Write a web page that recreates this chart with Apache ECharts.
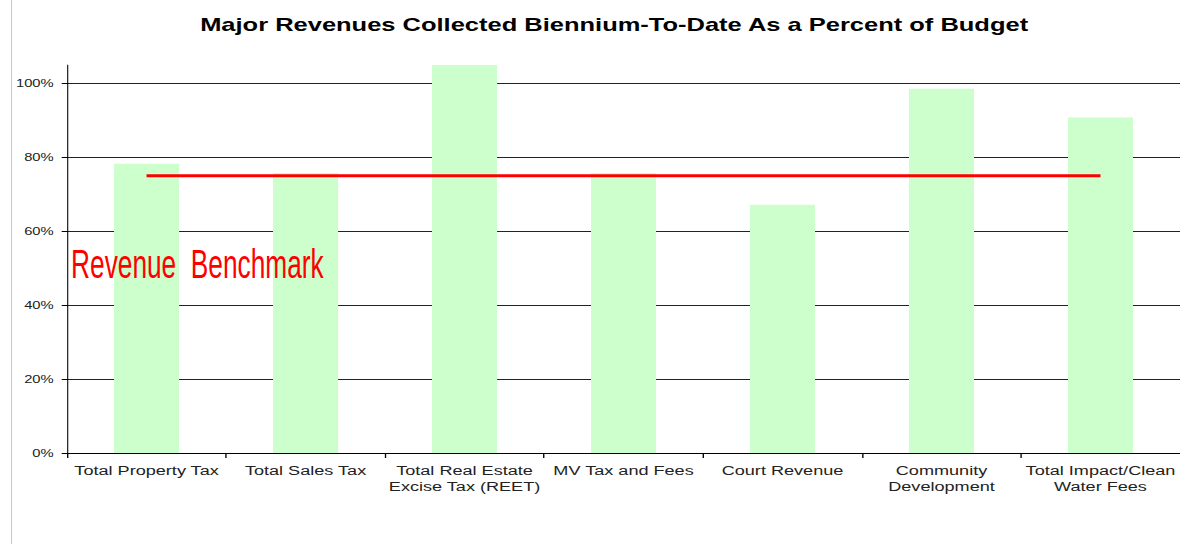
<!DOCTYPE html>
<html><head><meta charset="utf-8">
<script src="https://cdn.jsdelivr.net/npm/echarts@6/dist/echarts.min.js"></script>
<style>html,body{margin:0;padding:0;background:#fff;overflow:hidden}
#c{width:880px;height:544px;transform:scaleX(1.340909);transform-origin:0 0}
#edge{position:absolute;left:11px;top:0;width:1px;height:544px;background:#c8c8c8}</style>
</head><body><div id="c"></div><div id="edge"></div>
<script>
const categories = ['Total Property Tax','Total Sales Tax','Total Real Estate\nExcise Tax (REET)','MV Tax and Fees','Court Revenue','Community\nDevelopment','Total Impact/Clean\nWater Fees'];
const percentCollected = [78.3, 75.8, 105, 75.8, 67.2, 98.6, 90.8];
const benchmark = [75, 75, 75, 75, 75, 75, 75];
const yTicks = [0, 20, 40, 60, 80, 100];

const chart = echarts.init(document.getElementById('c'), null, {renderer: 'svg'});
chart.setOption({
  animation: false,
  title: {
    text: 'Major Revenues Collected Biennium-To-Date As a Percent of Budget',
    left: 453, top: 10, textAlign: 'center',
    textStyle: {fontFamily: 'Liberation Sans, Arial, sans-serif', fontWeight: 'bold', fontSize: 19, color: '#000'}
  },
  grid: {left: 50, right: -1, top: 65, bottom: 91},
  xAxis: {
    type: 'category', data: categories,
    axisLine: {lineStyle: {color: '#000', width: 1}},
    axisTick: {show: true, length: 5, lineStyle: {color: '#000'}},
    axisLabel: {interval: 0, color: '#222', fontSize: 13.5, fontFamily: 'Liberation Sans, Arial, sans-serif', lineHeight: 16, margin: 9}
  },
  yAxis: {
    type: 'value', min: 0, max: 105, interval: 20,
    axisLine: {show: true, lineStyle: {color: '#000', width: 0.8}},
    axisTick: {show: true, length: 4, lineStyle: {color: '#000'}, customValues: yTicks},
    axisLabel: {color: '#222', fontSize: 11, fontFamily: 'Liberation Sans, Arial, sans-serif', margin: 10, customValues: yTicks, formatter: v => v + '%'},
    splitLine: {show: true, showMaxLine: true, showMinLine: false, lineStyle: {color: '#222', width: 1}}
  },
  series: [
    {type: 'bar', data: percentCollected, barWidth: 48.5, itemStyle: {color: '#CCFFCC'}, z: 2},
    {type: 'line', data: benchmark, symbol: 'none', lineStyle: {color: '#FF0000', width: 3}, z: 3}
  ],
  graphic: [{
    type: 'text', left: 53, top: 244, scaleX: 0.49, z: 100,
    style: {text: 'Revenue  Benchmark', fill: '#FF0000', font: '40px "Liberation Sans", Arial, sans-serif'}
  }]
});
</script></body></html>
